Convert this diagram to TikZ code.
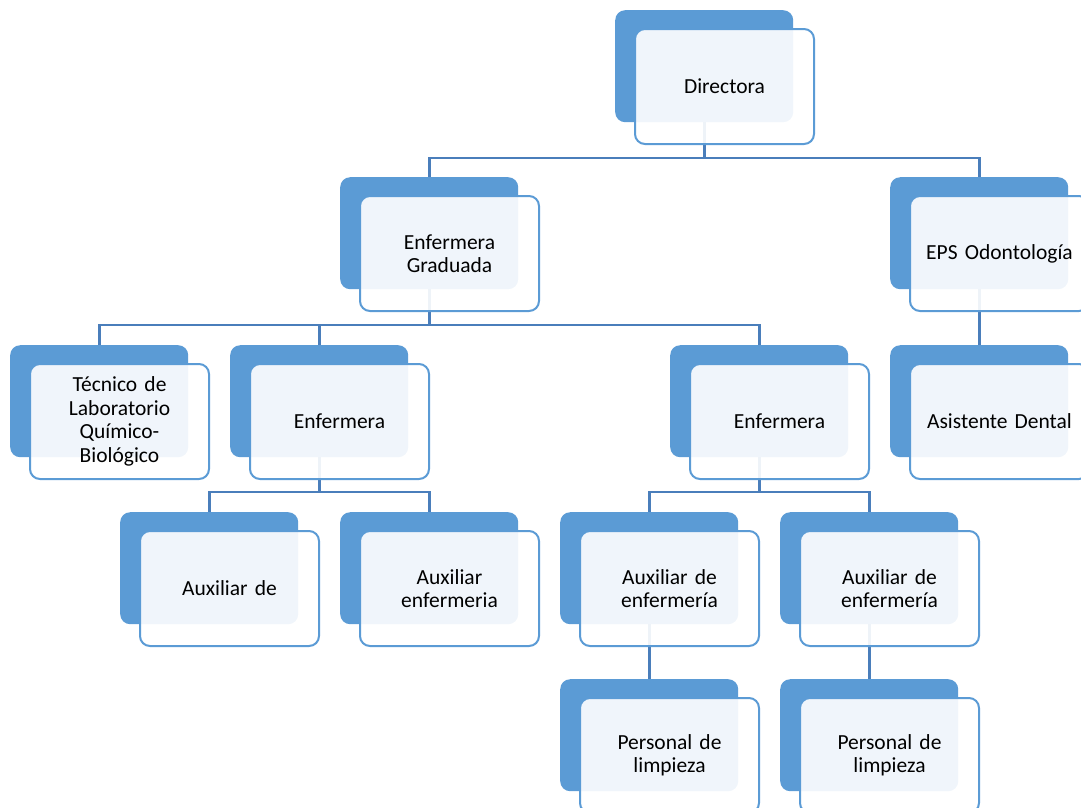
\documentclass[tikz,border=0pt]{standalone}
\usepackage{fontspec}
\setmainfont[WordSpace=0.85]{Carlito}
\definecolor{darkblue}{HTML}{5B9BD5}
\definecolor{linkblue}{HTML}{4A7EBB}
\tikzset{
  backbox/.style={fill=darkblue, rounded corners=10pt, minimum width=178pt, minimum height=112pt, inner sep=0pt, anchor=north west},
  frontbox/.style={draw=darkblue, line width=2pt, fill=white, fill opacity=0.91, text opacity=1, rounded corners=10pt, minimum width=179pt, minimum height=115pt, inner sep=0pt, anchor=north west, align=center, text width=170pt, font=\fontsize{21.5}{23.5}\selectfont},
  link/.style={draw=linkblue, line width=2.6pt}
}
\newcommand\backnode[3]{\node[backbox] (#1) at (#2,-#3) {};}
\newcommand\frontnode[4]{\node[frontbox] (#1F) at (#2+19,-#3-18) {#4};}
\begin{document}
\begin{tikzpicture}[x=1pt,y=1pt]
\useasboundingbox (0,0) rectangle (1081,-807);
\clip (0,0) rectangle (1081,-807);
% back boxes
\backnode{dir}{615}{10}
\backnode{gra}{340}{177}
\backnode{eps}{890}{177}
\backnode{tec}{10}{345}
\backnode{enfA}{230}{345}
\backnode{enfB}{670}{345}
\backnode{asi}{890}{345}
\backnode{auxA}{120}{512}
\backnode{auxB}{340}{512}
\backnode{auxC}{560}{512}
\backnode{auxD}{780}{512}
\backnode{perA}{560}{679}
\backnode{perB}{780}{679}
% bus coordinates
\coordinate (bus1) at (0,-158);
\coordinate (bus2) at (0,-325);
\coordinate (bus3) at (0,-492);
% connectors
\draw[link] (dir.south) |- (gra.north |- bus1) -- (gra.north);
\draw[link] (dir.south) |- (eps.north |- bus1) -- (eps.north);
\draw[link] (gra.south) |- (tec.north |- bus2) -- (tec.north);
\draw[link] (gra.south) |- (enfA.north |- bus2) -- (enfA.north);
\draw[link] (gra.south) |- (enfB.north |- bus2) -- (enfB.north);
\draw[link] (eps.south) -- (asi.north);
\draw[link] (enfA.south) |- (auxA.north |- bus3) -- (auxA.north);
\draw[link] (enfA.south) |- (auxB.north |- bus3) -- (auxB.north);
\draw[link] (enfB.south) |- (auxC.north |- bus3) -- (auxC.north);
\draw[link] (enfB.south) |- (auxD.north |- bus3) -- (auxD.north);
\draw[link] (auxC.south) -- (perA.north);
\draw[link] (auxD.south) -- (perB.north);
% front boxes
\frontnode{dir}{615}{10}{Directora}
\frontnode{gra}{340}{177}{Enfermera\\Graduada}
\frontnode{eps}{890}{177}{EPS Odontología}
\frontnode{tec}{10}{345}{Técnico de\\Laboratorio\\Químico-\\Biológico}
\frontnode{enfA}{230}{345}{Enfermera}
\frontnode{enfB}{670}{345}{Enfermera}
\frontnode{asi}{890}{345}{Asistente Dental}
\frontnode{auxA}{120}{512}{Auxiliar de}
\frontnode{auxB}{340}{512}{Auxiliar\\enfermeria}
\frontnode{auxC}{560}{512}{Auxiliar de\\enfermería}
\frontnode{auxD}{780}{512}{Auxiliar de\\enfermería}
\frontnode{perA}{560}{679}{Personal de\\limpieza}
\frontnode{perB}{780}{679}{Personal de\\limpieza}
\end{tikzpicture}
\end{document}
